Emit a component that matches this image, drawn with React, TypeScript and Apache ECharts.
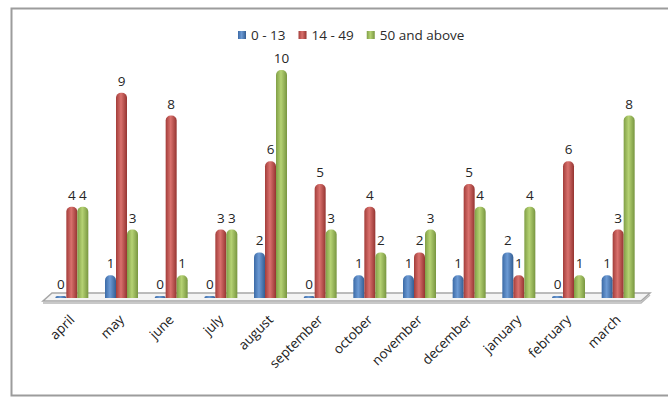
import React, { useEffect, useRef } from "react";
import * as echarts from "echarts";

const months = [
  "april", "may", "june", "july", "august", "september",
  "october", "november", "december", "january", "february", "march",
];
const ageGroups = ["0 - 13", "14 - 49", "50 and above"];
const young = [0, 1, 0, 0, 2, 0, 1, 1, 1, 2, 0, 1];
const adult = [4, 9, 8, 3, 6, 5, 4, 2, 5, 1, 6, 3];
const senior = [4, 3, 1, 3, 10, 3, 2, 3, 4, 4, 1, 8];

const FONT = "'Open Sans', 'Noto Sans', sans-serif";

// Horizontal shading that gives each column a cylindrical look
const cylinder = (dark: string, light: string, edge: string) =>
  new echarts.graphic.LinearGradient(0, 0, 1, 0, [
    { offset: 0, color: dark },
    { offset: 0.45, color: light },
    { offset: 1, color: edge },
  ]);

const palette = [
  { solid: "#4F81BD", fill: cylinder("#3b6aa6", "#6c9ad4", "#345e93") },
  { solid: "#C0504D", fill: cylinder("#a33d3a", "#d9716d", "#953431") },
  { solid: "#9BBB59", fill: cylinder("#809f46", "#b5d273", "#789640") },
];

export default function App() {
  const ref = useRef<HTMLDivElement>(null);

  useEffect(() => {
    if (!ref.current) return;
    const chart = echarts.init(ref.current, undefined, { renderer: "svg" });
    const values = [young, adult, senior];

    chart.setOption({
      animation: false,
      backgroundColor: "#ffffff",
      textStyle: { fontFamily: FONT },
      legend: {
        data: ageGroups,
        left: 233,
        top: 23,
        icon: "rect",
        itemWidth: 8,
        itemHeight: 8,
        itemGap: 13,
        textStyle: { fontSize: 13.5, color: "#2b2b2b", fontFamily: FONT },
      },
      grid: { left: 47, right: 25, top: 70, bottom: 100 },
      xAxis: {
        type: "category",
        data: months,
        axisLine: { show: false },
        axisTick: { show: false },
        axisLabel: {
          rotate: 45,
          margin: 19,
          fontSize: 13.5,
          color: "#222222",
          fontFamily: FONT,
        },
      },
      yAxis: {
        type: "value",
        min: 0,
        max: 10,
        show: false,
        splitLine: { show: false },
      },
      graphic: [
        {
          type: "rect",
          z: -10,
          shape: { x: 11.5, y: 8.5, width: 680, height: 387 },
          style: { fill: "none", stroke: "#9c9c9c", lineWidth: 2 },
        },
        {
          type: "polygon",
          z: -5,
          shape: { points: [[52, 293], [650, 293], [641, 301], [43, 301]] },
          style: { fill: "#f4f4f4", stroke: "#a6a6a6", lineWidth: 1.5 },
        },
        {
          type: "polyline",
          z: -5,
          shape: { points: [[43, 303], [641, 303], [650, 295]] },
          style: { fill: "none", stroke: "#b8b8b8", lineWidth: 1.5 },
        },
      ],
      series: ageGroups.map((name, i) => ({
        name,
        type: "bar",
        data: values[i],
        z: 5,
        barWidth: 11,
        barGap: "0%",
        barMinHeight: 2,
        color: palette[i].solid,
        itemStyle: { color: palette[i].fill, borderRadius: [5, 5, 0, 0] },
        label: {
          show: true,
          position: "top",
          distance: 5,
          fontSize: 13.5,
          color: "#262626",
          fontFamily: FONT,
        },
      })),
    });

    return () => chart.dispose();
  }, []);

  return (
    <div
      ref={ref}
      style={{ position: "fixed", left: 0, top: 0, width: 668, height: 398 }}
    />
  );
}
